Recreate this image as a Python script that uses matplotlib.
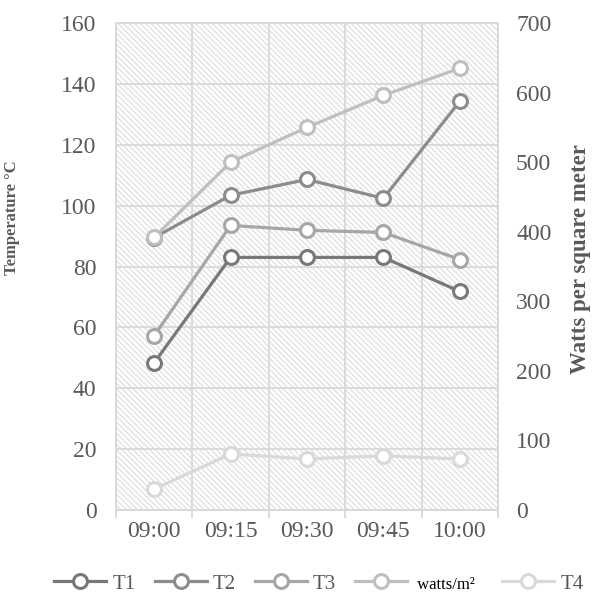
import matplotlib
matplotlib.use("Agg")
import matplotlib.pyplot as plt
from matplotlib.patches import Rectangle

times = ["09:00", "09:15", "09:30", "09:45", "10:00"]
t1 = [48.4, 83.0, 83.0, 83.0, 71.8]
t2 = [89.5, 103.4, 108.6, 102.4, 134.3]
t3 = [57.3, 93.5, 91.9, 91.2, 82.3]
watts = [392, 500, 550, 596, 635]
t4 = [6.9, 18.4, 16.8, 17.8, 16.8]

plt.rcParams["font.family"] = ["Liberation Serif", "DejaVu Serif"]
plt.rcParams["hatch.linewidth"] = 0.8

GRAY_TXT = "#595959"
GRID = "#d9d9d9"

fig = plt.figure(figsize=(5.93, 5.97), dpi=100)
ax = fig.add_axes([0.1956, 0.1457, 0.6442, 0.8157])
ax2 = ax.twinx()

# fundo hachurado
ax.add_patch(Rectangle((0, 0), 1, 1, transform=ax.transAxes, facecolor="white",
                       hatch="\\\\\\\\\\\\", edgecolor="#dcdcdc", lw=0, zorder=0))

x = list(range(len(times)))
estilo = dict(lw=2.3, marker="o", markersize=10, markerfacecolor="white", markeredgewidth=2.2)

l1, = ax.plot(x, t1, color="#787878", label="T1", **estilo)
l2, = ax.plot(x, t2, color="#8c8c8c", label="T2", **estilo)
l3, = ax.plot(x, t3, color="#a6a6a6", label="T3", **estilo)
l5, = ax.plot(x, t4, color="#d9d9d9", label="T4", **estilo)
l4, = ax2.plot(x, watts, color="#bfbfbf", label=" watts/m²  ", **estilo)

ax.set_xlim(-0.5, 4.5)
ax.set_ylim(0, 160)
ax.set_yticks(range(0, 161, 20))
ax2.set_ylim(0, 700)
ax2.set_yticks(range(0, 701, 100))
ax.set_xticks(x)
ax.set_xticklabels(times)
ax.set_xticks([i + 0.5 for i in range(-1, 5)], minor=True)

ax.set_axisbelow(True)
ax.grid(axis="y", which="major", color=GRID, lw=1.3)
ax.grid(axis="x", which="minor", color=GRID, lw=1.3)

for a in (ax, ax2):
    for s in a.spines.values():
        s.set_color(GRID)
        s.set_linewidth(1.3)
    a.tick_params(which="both", length=0, labelsize=17, labelcolor=GRAY_TXT)
ax.tick_params(axis="x", which="minor", length=5.5, width=1.3, color=GRID, direction="out")
ax.tick_params(axis="y", pad=14)
ax.tick_params(axis="x", which="major", pad=8)
ax2.tick_params(axis="y", pad=13)

ax.set_ylabel("Temperature °C", fontsize=12, fontweight="bold", color=GRAY_TXT)
ax.yaxis.set_label_coords(-0.251, 0.60)
ax2.set_ylabel("Watts per square meter", fontsize=16.5, fontweight="bold", color=GRAY_TXT)
ax2.yaxis.set_label_coords(1.188, 0.515)

leg = fig.legend(handles=[l1, l2, l3, l4, l5], loc="center", bbox_to_anchor=(0.538, 0.022),
                 ncol=5, frameon=False, fontsize=15, handlelength=2.5, columnspacing=0.9,
                 handletextpad=0.3, borderaxespad=0, borderpad=0.1)
for t in leg.get_texts():
    t.set_color(GRAY_TXT)
leg.get_texts()[3].set_fontsize(12)
leg.get_texts()[3].set_color("black")

fig.savefig("out.png", dpi=100)
